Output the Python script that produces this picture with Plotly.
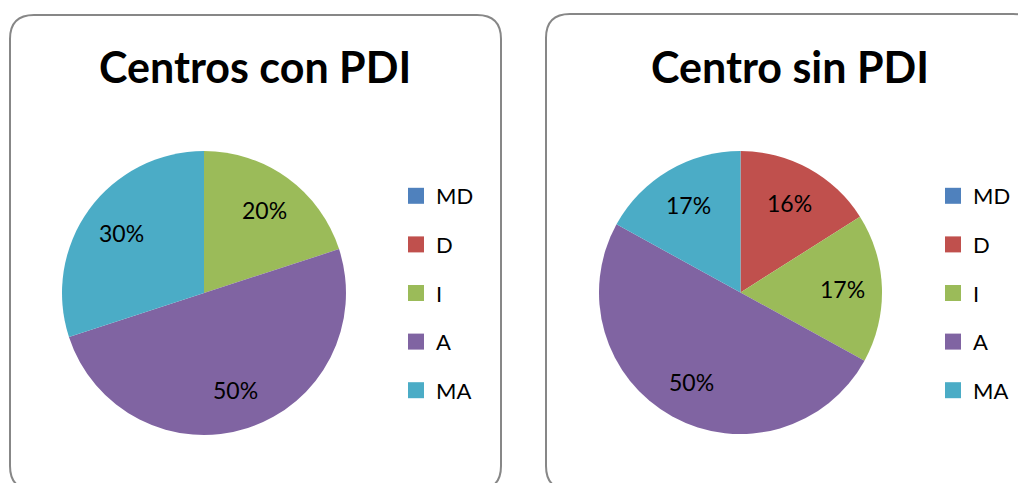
import math
import plotly.graph_objects as go

W, H = 1026, 483
OFF = 8  # page body margin offset (screen px)

categories = ["MD", "D", "I", "A", "MA"]
colors = ["#4F81BD", "#C0504D", "#9BBB59", "#8064A2", "#4BACC6"]
titles = ["Centros con PDI", "Centro sin PDI"]
values_con = [0, 0, 20, 50, 30]
values_sin = [0, 16, 17, 50, 17]

FONT = "Lato"


def px(x):
    return (x - OFF) / W


def py(y):
    return 1 - (y - OFF) / H


def rounded_path(x0, y0, x1, y1, r):
    pts = [
        f"M {px(x0 + r)},{py(y0)}",
        f"L {px(x1 - r)},{py(y0)}",
        f"Q {px(x1)},{py(y0)} {px(x1)},{py(y0 + r)}",
        f"L {px(x1)},{py(y1 - r)}",
        f"Q {px(x1)},{py(y1)} {px(x1 - r)},{py(y1)}",
        f"L {px(x0 + r)},{py(y1)}",
        f"Q {px(x0)},{py(y1)} {px(x0)},{py(y1 - r)}",
        f"L {px(x0)},{py(y0 + r)}",
        f"Q {px(x0)},{py(y0)} {px(x0 + r)},{py(y0)}",
        "Z",
    ]
    return " ".join(pts)


# pie geometry (screen px): left, top, size
pies = [
    dict(values=values_con, box=(62, 151, 284), title=titles[0], tx=255, legend="legend"),
    dict(values=values_sin, box=(599, 151, 283), title=titles[1], tx=790, legend="legend2"),
]

fig = go.Figure()
annotations = []

for p in pies:
    x0, y0, s = p["box"]
    vals = p["values"]
    fig.add_trace(go.Pie(
        labels=categories, values=vals,
        textinfo="none",
        marker=dict(colors=colors, line=dict(width=0)),
        sort=False, direction="clockwise", rotation=0,
        domain=dict(x=[px(x0), px(x0 + s)], y=[py(y0 + s), py(y0)]),
        showlegend=False, hoverinfo="label+percent",
    ))
    # percentage labels along each slice bisector
    cx, cy, r = x0 + s / 2, y0 + s / 2, s / 2
    total = sum(vals)
    a0 = 90.0
    for v in vals:
        a1 = a0 - 360.0 * v / total
        if v:
            mid = math.radians((a0 + a1) / 2)
            lx = cx + 0.72 * r * math.cos(mid)
            ly = cy - 0.72 * r * math.sin(mid)
            annotations.append(dict(
                text=f"{v}%", x=px(lx), y=py(ly), xref="paper", yref="paper",
                showarrow=False, xanchor="center", yanchor="middle",
                font=dict(family=FONT, size=23, color="black"),
            ))
        a0 = a1
    annotations.append(dict(
        text=f"<b>{p['title']}</b>", x=px(p["tx"]), y=py(66), xref="paper", yref="paper",
        showarrow=False, xanchor="center", yanchor="middle",
        font=dict(family=FONT, size=43, color="black"),
    ))
    # legend entries
    for cat, col in zip(categories, colors):
        fig.add_trace(go.Scatter(
            x=[None], y=[None], mode="markers", name=cat,
            marker=dict(symbol="square", size=18, color=col),
            legend=p["legend"], legendgroup=f"{p['legend']}-{cat}", showlegend=True,
        ))

legend_common = dict(
    font=dict(family=FONT, size=22, color="black"),
    bgcolor="rgba(0,0,0,0)", traceorder="grouped", tracegroupgap=17,
    xanchor="left", yanchor="top", itemclick=False, itemdoubleclick=False,
)

fig.update_layout(
    width=W, height=H,
    margin=dict(l=0, r=0, t=0, b=0),
    paper_bgcolor="white", plot_bgcolor="white",
    xaxis=dict(visible=False, domain=[0, 0.01]),
    yaxis=dict(visible=False, domain=[0, 0.01]),
    legend=dict(x=px(396), y=py(175), **legend_common),
    legend2=dict(x=px(933), y=py(175), **legend_common),
    shapes=[
        dict(type="path", xref="paper", yref="paper",
             path=rounded_path(10, 15, 501, 490, 24),
             line=dict(color="#878787", width=2), fillcolor="rgba(0,0,0,0)", layer="below"),
        dict(type="path", xref="paper", yref="paper",
             path=rounded_path(546, 14, 1037, 490, 24),
             line=dict(color="#878787", width=2), fillcolor="rgba(0,0,0,0)", layer="below"),
    ],
    annotations=annotations,
)

fig.write_html("out.html")
